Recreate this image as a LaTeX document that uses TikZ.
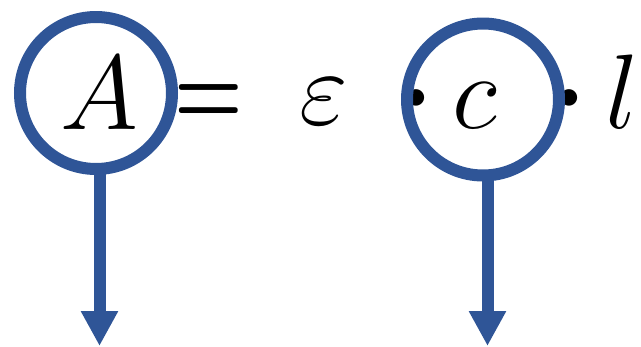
\RequirePackage{fix-cm}
\documentclass[tikz,border=0pt]{standalone}
\usetikzlibrary{arrows.meta}
\definecolor{ringblue}{RGB}{47,85,151}
\tikzset{
  ring/.style={circle, draw=ringblue, line width=12pt, minimum size=152pt, inner sep=0pt},
  sym/.style={anchor=base, inner sep=0pt, font=\fontsize{106}{110}\selectfont},
  boldsym/.style={sym, font=\fontsize{106}{110}\selectfont\boldmath},
  downarrow/.style={draw=ringblue, line width=12pt, -{Triangle[width=35pt,length=35pt]}}
}
\begin{document}
\begin{tikzpicture}[x=1pt,y=-1pt]
\useasboundingbox (0,0) rectangle (641,346);
\node[boldsym] (dot1) at (416,124) {$\cdot$};
\node[boldsym] (dot2) at (569,124) {$\cdot$};
\node[ring] (ringA) at (96,93) {};
\node[ring] (ringC) at (483,99.5) {};
\node[sym] (tA) at (99,129) {$A$};
\node[boldsym, xscale=0.74] (teq) at (209,125) {$=$};
\node[sym] (teps) at (324,124) {$\varepsilon$};
\node[sym] (tc) at (475,128) {$c$};
\node[sym] (tl) at (622,128) {$l$};
\coordinate (endA) at (99.5,346);
\coordinate (endC) at (487.5,346);
\coordinate (startA) at (99.5,170);
\coordinate (startC) at (487.5,177);
\draw[downarrow] (startA) -- (endA);
\draw[downarrow] (startC) -- (endC);
\end{tikzpicture}
\end{document}
